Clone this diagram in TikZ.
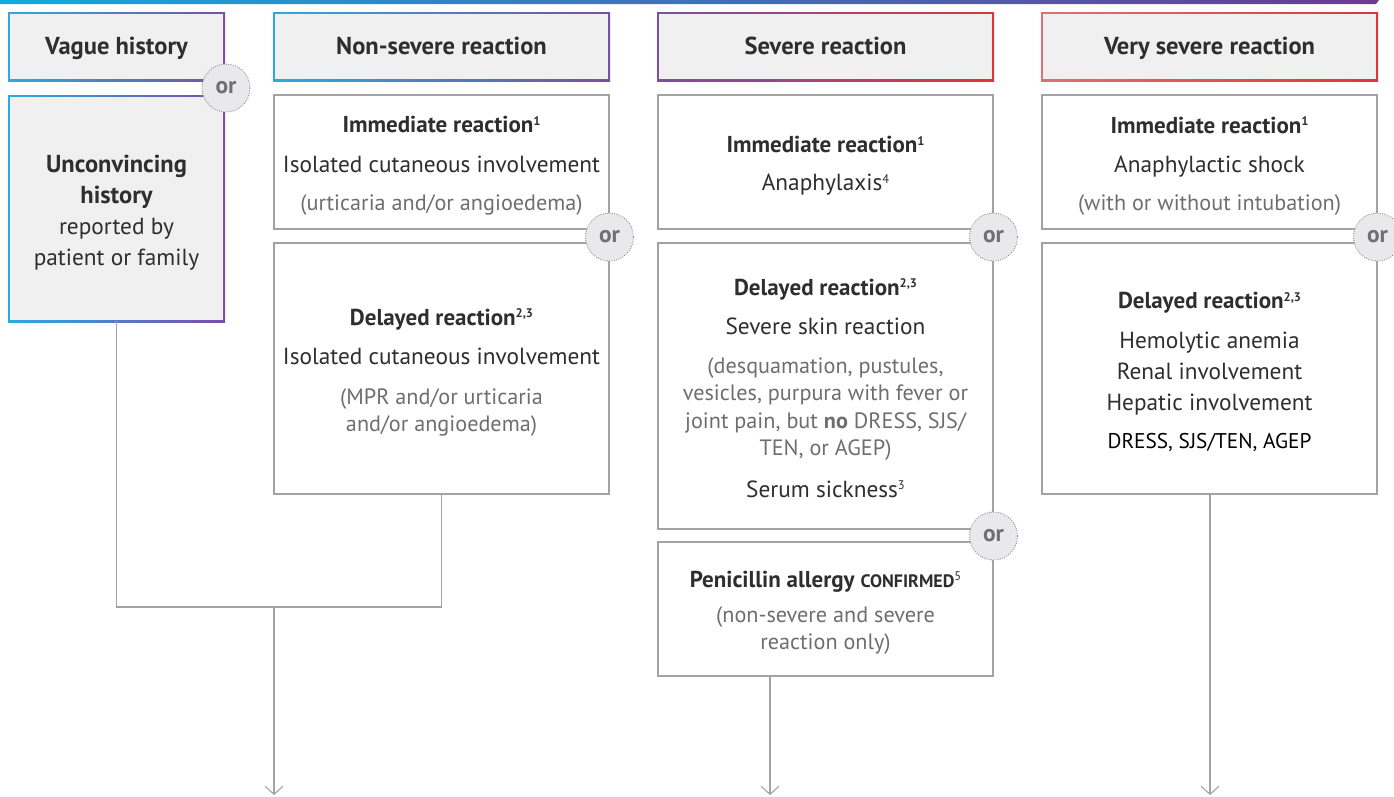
\documentclass[tikz,border=0pt]{standalone}
\usepackage{fontspec}
\setmainfont{PT Sans}
\usetikzlibrary{arrows.meta,backgrounds,calc}
\definecolor{cyanb}{HTML}{29ABE2}
\definecolor{purpb}{HTML}{7A4EA6}
\definecolor{redb}{HTML}{E0343E}
\definecolor{pinkb}{HTML}{DC7078}
\definecolor{hdrfill}{HTML}{F0F0F0}
\definecolor{linegrey}{HTML}{A3A3A3}
\definecolor{txt}{HTML}{2E2E2E}
\definecolor{txtgrey}{HTML}{6E6E70}
\definecolor{orfill}{HTML}{E9E9EB}
\definecolor{orborder}{HTML}{8A8A8A}
\definecolor{ortext}{HTML}{707072}
\definecolor{bara}{HTML}{12A9E1}
\definecolor{barb}{HTML}{3C7CC2}
\definecolor{barc}{HTML}{6B3A96}
\newcommand{\ttl}[1]{{\fontsize{23}{31}\selectfont\bfseries #1}}
\newcommand{\gry}[1]{{\fontsize{22.2}{31}\selectfont\color{txtgrey}#1}}
\newcommand{\sps}[1]{\raisebox{7.5pt}{\fontsize{12.5}{12.5}\selectfont #1}}
\newcommand{\topstrut}{\rule{0pt}{24pt}}
\newcommand{\gradframe}[3]{%
  \shade[left color=#2,right color=#3] ($(#1.north west)+(-0.8,-0.8)$) rectangle ($(#1.south east)+(0.8,0.8)$);
  \fill[hdrfill] ($(#1.north west)+(0.8,0.8)$) rectangle ($(#1.south east)+(-0.8,-0.8)$);}
\tikzset{
  box/.style={draw=linegrey, line width=1.3pt, fill=white, minimum width=335pt, inner sep=0pt, align=center, text=txt, font=\fontsize{23.3}{31}\selectfont},
  grbox/.style={inner sep=0pt, align=center, text=txt},
  hdr/.style={grbox, minimum height=67pt, text height=18pt, text depth=2pt, font=\fontsize{24.5}{31}\selectfont\bfseries},
  orc/.style={circle, minimum size=48pt, inner sep=0pt, fill=orfill, draw=orborder, line width=0.9pt, dash pattern=on 0.9pt off 1.4pt, text=ortext, font=\fontsize{23.5}{23.5}\selectfont\bfseries},
  conn/.style={draw=linegrey, line width=1.3pt},
  arr/.style={conn, -{Straight Barb[length=8pt,width=18pt,line width=1.1pt]}}
}
\begin{document}
\begin{tikzpicture}[x=1pt,y=-1pt]
\useasboundingbox (0,0) rectangle (1394,796);
% top bar
\shade[left color=bara, middle color=barb, right color=barc] (0,0) -- (1379,0) -- (1376,4) -- (0,4) -- cycle;
% headers
\node[hdr, minimum width=215pt] (vh) at (116.5,46.5) {Vague history};
\node[hdr, minimum width=335pt] (ns) at (441.5,46.5) {Non-severe reaction};
\node[hdr, minimum width=335pt] (sv) at (825.5,46.5) {Severe reaction};
\node[hdr, minimum width=335pt] (vs) at (1209.5,46.5) {Very severe reaction};
\node[grbox, minimum width=215pt, minimum height=225pt, font=\fontsize{23.3}{31}\selectfont] (unc) at (116.5,208.5)
  {\rule{0pt}{25.5pt}{\fontsize{24.5}{31}\selectfont\bfseries Unconvincing}\\ {\fontsize{24.5}{31}\selectfont\bfseries history}\\ reported by\\ patient or family};
\begin{pgfonlayer}{background}
  \gradframe{vh}{cyanb}{purpb}
  \gradframe{ns}{cyanb}{purpb}
  \gradframe{sv}{purpb}{redb}
  \gradframe{vs}{pinkb}{redb}
  \gradframe{unc}{cyanb}{purpb}
\end{pgfonlayer}
% column 2
\node[box, minimum height=134pt] (im2) at (441.5,162)
  {\topstrut\ttl{Immediate reaction\sps{1}}\\[9pt] Isolated cutaneous involvement\\[7pt] \gry{(urticaria and/or angioedema)}};
\node[box, minimum height=251pt] (de2) at (441.5,368.5)
  {\topstrut\ttl{Delayed reaction\sps{2,3}}\\[8pt] Isolated cutaneous involvement\\[9pt] \gry{(MPR and/or urticaria}\\[-4pt] \gry{and/or angioedema)}};
% column 3
\node[box, minimum height=134pt] (im3) at (825.5,162)
  {\topstrut\ttl{Immediate reaction\sps{1}}\\[7pt] Anaphylaxis\sps{4}};
\node[box, minimum height=286pt] (de3) at (825.5,386)
  {\rule{0pt}{21pt}\ttl{Delayed reaction\sps{2,3}}\\[8pt] Severe skin reaction\\[8pt] \gry{(desquamation, pustules,}\\[-4pt] \gry{vesicles, purpura with fever or}\\[-3pt] \gry{joint pain, but \textbf{no} DRESS, SJS/}\\[-4pt] \gry{TEN, or AGEP)}\\[11pt] Serum sickness\sps{3}};
\node[box, minimum height=134pt] (pen) at (825.5,609)
  {\topstrut\ttl{Penicillin allergy {\fontsize{18}{31}\selectfont CONFIRMED}{\mdseries\sps{5}}}\\[4pt] \gry{(non-severe and severe}\\[-4pt] \gry{reaction only)}};
% column 4
\node[box, minimum height=134pt] (im4) at (1209.5,162)
  {\topstrut\ttl{Immediate reaction\sps{1}}\\[8pt] Anaphylactic shock\\[7pt] \gry{(with or without intubation)}};
\node[box, minimum height=251pt] (de4) at (1209.5,368.5)
  {\topstrut\ttl{Delayed reaction\sps{2,3}}\\[9pt] Hemolytic anemia\\ Renal involvement\\ Hepatic involvement\\[7pt] {\fontsize{21.3}{31}\selectfont\color{black}DRESS, SJS/TEN, AGEP}};
% connectors
\coordinate (join) at (274,607);
\coordinate (end1) at (274,795);
\coordinate (end3) at (770,795);
\coordinate (end4) at (1210,795);
\draw[conn] (unc.south) |- (join) -| (de2.south);
\draw[arr] (join) -- (end1);
\draw[arr] (end3 |- pen.south) -- (end3);
\draw[arr] (end4 |- de4.south) -- (end4);
% or circles
\node[orc] (or1) at (226,88) {or};
\node[orc] (or2) at (609.5,237) {or};
\node[orc] (or3) at (993.5,237) {or};
\node[orc] (or4) at (993.5,536) {or};
\node[orc] (or5) at (1377.5,237) {or};
\end{tikzpicture}
\end{document}
